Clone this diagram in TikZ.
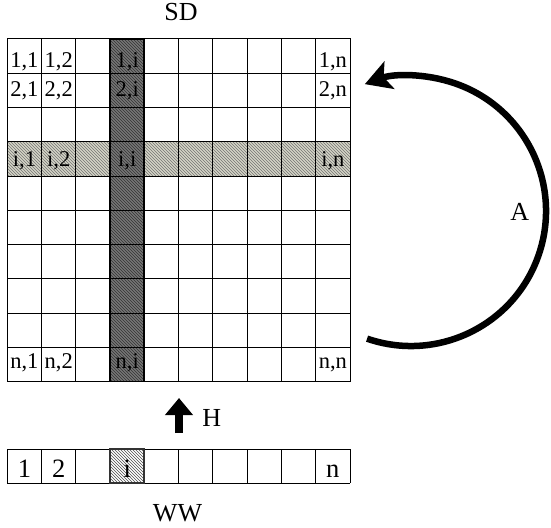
\documentclass[tikz,border=0pt]{standalone}
\usepackage{fontspec}
\setmainfont{Liberation Serif}
\usetikzlibrary{patterns,arrows.meta}
\definecolor{lightrow}{RGB}{212,212,198}
\definecolor{darkcol}{RGB}{118,118,118}
\tikzset{
  celltext/.style={anchor=base,inner sep=0pt,font=\fontsize{22.5}{22.5}\selectfont},
  wwtext/.style={anchor=base,inner sep=0pt,font=\fontsize{26.5}{26.5}\selectfont},
  biglabel/.style={anchor=base,inner sep=0pt,text height=16pt,text depth=0pt,font=\fontsize{26}{26}\selectfont},
  gridline/.style={draw=black,line width=1pt},
  boldline/.style={draw=black,line width=1.8pt},
}
\begin{document}
\begin{tikzpicture}[x=1pt,y=-1pt]
\useasboundingbox (0,0) rectangle (551,527);
\def\gx{7.3}\def\gy{39}\def\cw{34.27}\def\ch{34.25}
% light row i
\fill[lightrow] (\gx,\gy+3*\ch) rectangle (\gx+10*\cw,\gy+4*\ch);
\fill[pattern=north west lines,pattern color=black!55] (\gx,\gy+3*\ch) rectangle (\gx+10*\cw,\gy+4*\ch);
% dark column i
\fill[darkcol] (\gx+3*\cw,\gy) rectangle (\gx+4*\cw,\gy+10*\ch);
\fill[pattern=north west lines,pattern color=black!80] (\gx+3*\cw,\gy) rectangle (\gx+4*\cw,\gy+10*\ch);
% grid
\foreach \k in {0,...,10} {
  \draw[gridline] (\gx+\k*\cw,\gy) -- (\gx+\k*\cw,\gy+10*\ch);
  \draw[gridline] (\gx,\gy+\k*\ch) -- (\gx+10*\cw,\gy+\k*\ch);
}
\draw[boldline] (\gx+3*\cw,\gy) rectangle (\gx+4*\cw,\gy+10*\ch);
\draw[gridline] (\gx,\gy) rectangle (\gx+10*\cw,\gy+10*\ch);
% cell texts
\node[celltext] (c11) at (\gx+0.5*\cw,67.3) {1,1};
\node[celltext] (c12) at (\gx+1.5*\cw,67.3) {1,2};
\node[celltext] (c1i) at (\gx+3.5*\cw,67.3) {1,i};
\node[celltext] (c1n) at (\gx+9.5*\cw,67.3) {1,n};
\node[celltext] (c21) at (\gx+0.5*\cw,96.7) {2,1};
\node[celltext] (c22) at (\gx+1.5*\cw,96.7) {2,2};
\node[celltext] (c2i) at (\gx+3.5*\cw,96.7) {2,i};
\node[celltext] (c2n) at (\gx+9.5*\cw,96.7) {2,n};
\node[celltext] (ci1) at (\gx+0.5*\cw,166.7) {i,1};
\node[celltext] (ci2) at (\gx+1.5*\cw,166.7) {i,2};
\node[celltext] (cii) at (\gx+3.5*\cw,166.7) {i,i};
\node[celltext] (cin) at (\gx+9.5*\cw,166.7) {i,n};
\node[celltext] (cn1) at (\gx+0.5*\cw,368) {n,1};
\node[celltext] (cn2) at (\gx+1.5*\cw,368) {n,2};
\node[celltext] (cni) at (\gx+3.5*\cw,368) {n,i};
\node[celltext] (cnn) at (\gx+9.5*\cw,368) {n,n};
% WW row
\def\wy{449.3}\def\wh{34}
\fill[pattern=north west lines,pattern color=black!70] (\gx+3*\cw,\wy) rectangle (\gx+4*\cw,\wy+\wh);
\foreach \k in {0,...,10} {
  \draw[gridline] (\gx+\k*\cw,\wy) -- (\gx+\k*\cw,\wy+\wh);
}
\draw[gridline] (\gx,\wy) -- (\gx+10*\cw,\wy);
\draw[gridline] (\gx,\wy+\wh) -- (\gx+10*\cw,\wy+\wh);
\draw[boldline,draw=black!80] (\gx+3*\cw,\wy) rectangle (\gx+4*\cw,\wy+\wh);
\node[wwtext] (w1) at (\gx+0.5*\cw,477.3) {1};
\node[wwtext] (w2) at (\gx+1.5*\cw,477.3) {2};
\node[wwtext] (wi) at (\gx+3.5*\cw,477.3) {i};
\node[wwtext] (wn) at (\gx+9.5*\cw,477.3) {n};
% labels
\node[biglabel] (SD) at (181,20.5) {SD};
\node[biglabel] (WW) at (177.5,521.7) {WW};
\node[biglabel] (H) at (211.7,426) {H};
\node[biglabel] (A) at (519.7,220) {A};
% H arrow
\coordinate (hs) at (179,433);
\coordinate (he) at (179,398);
\draw[line width=8pt,-{Triangle[width=27pt,length=17pt]}] (hs) -- (he);
% A arc arrow
\coordinate (ac) at (411,211);
\draw[line width=6.5pt,-{Stealth[length=26pt,width=29pt,inset=6pt]}]
  ([shift={(109:135)}]ac) arc[start angle=109,end angle=-110,radius=135];
\end{tikzpicture}
\end{document}
